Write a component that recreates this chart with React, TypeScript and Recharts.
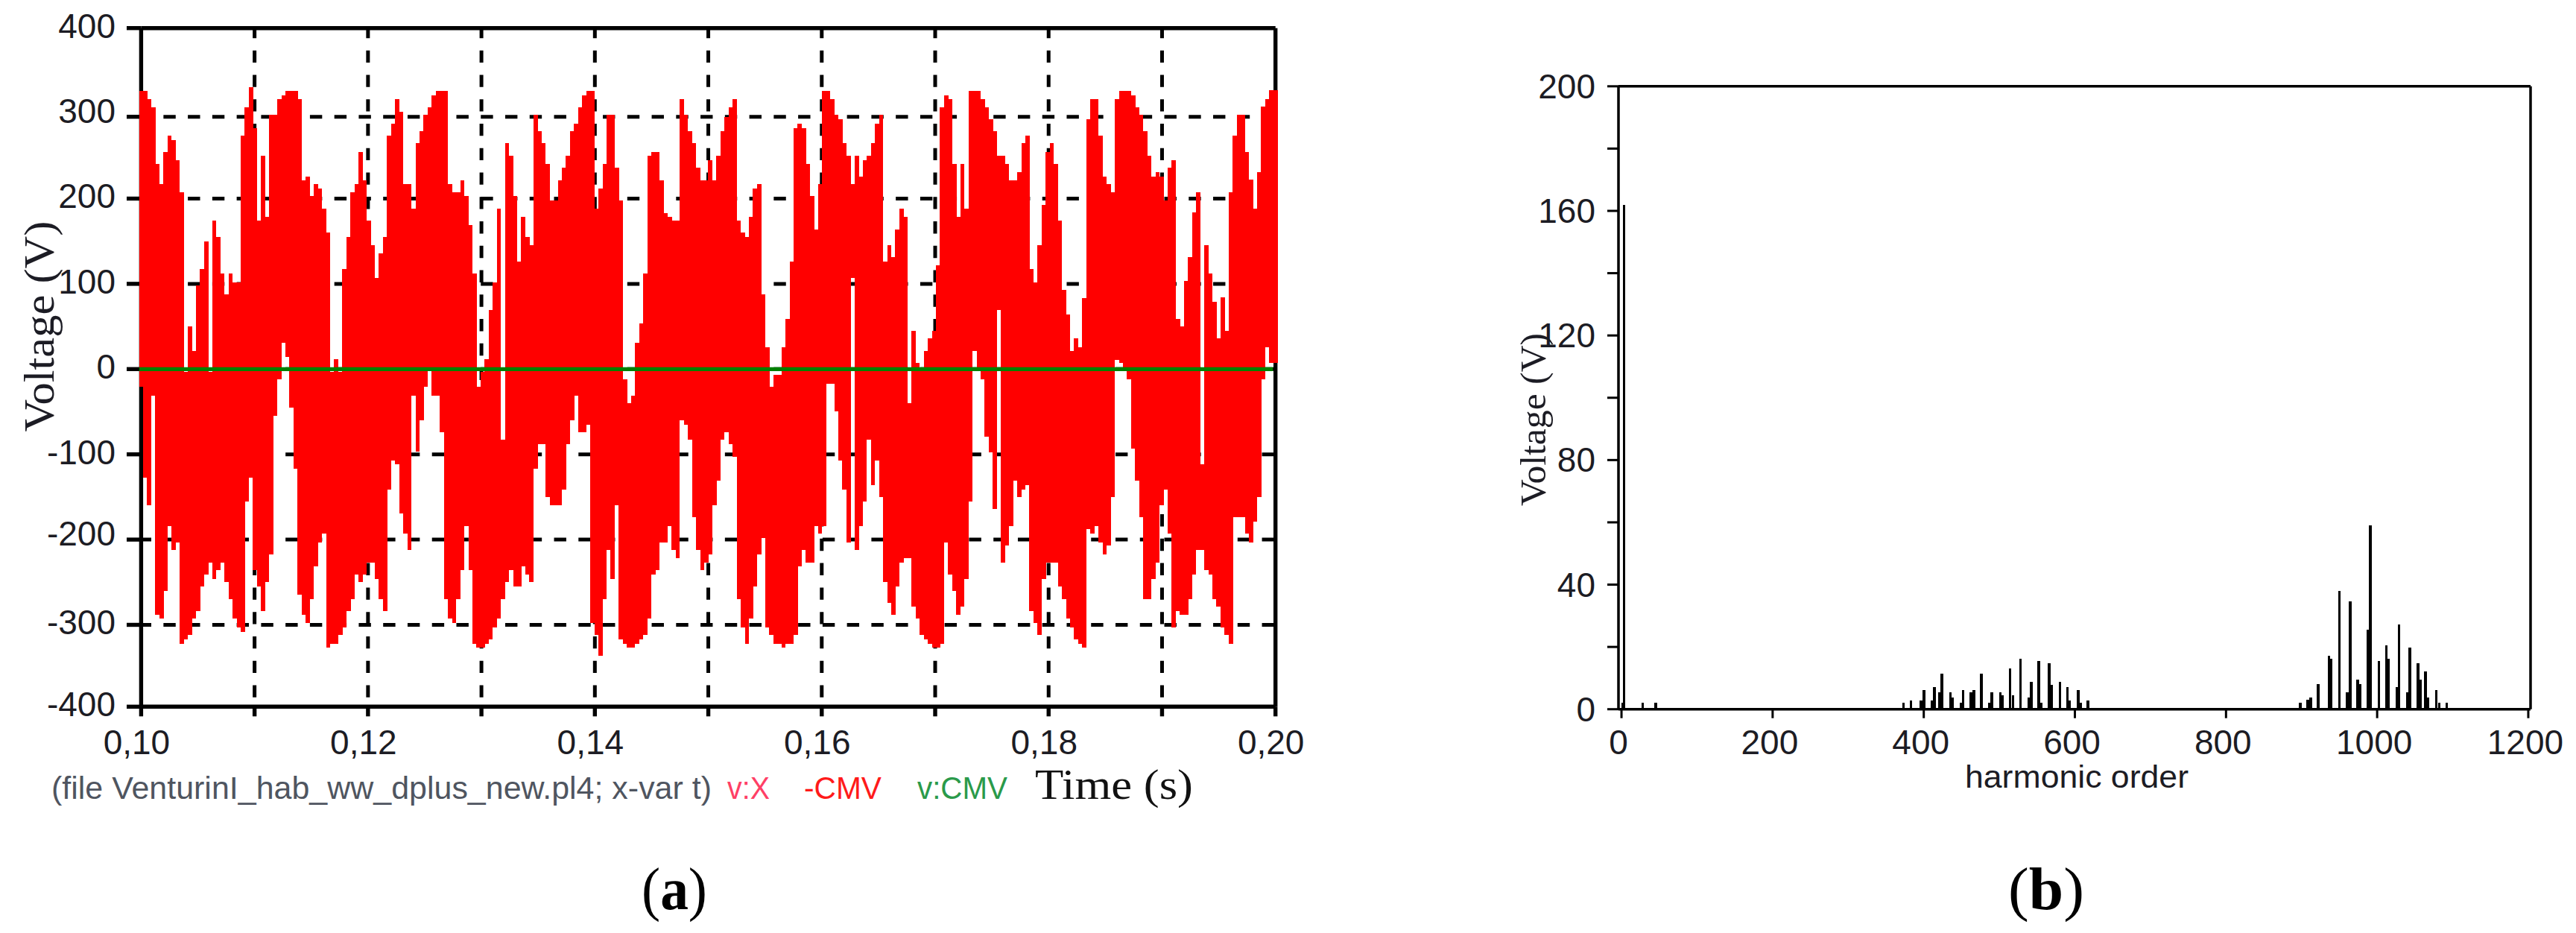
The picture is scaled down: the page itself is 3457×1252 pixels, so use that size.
import { Bar, BarChart, CartesianGrid, ComposedChart, Line, XAxis, YAxis } from 'recharts';

// (a) waveform, one column per raster pixel of the scope plot: top and bottom of the red band
const upper = [
  326, 326, 317, 307, 241, 217, 255, 274, 269, 245,
  207, -3, 50, 21, 98, 117, 150, -3, 174, 155,
  112, 88, 112, 102, 102, 274, 307, 331, 283, 174,
  250, 179, 298, 298, 317, 321, 326, 326, 326, 317,
  221, 226, 203, 217, 212, 188, 160, -3, 12, -3,
  117, 155, 207, 217, 255, 221, 174, 145, 107, 136,
  155, 274, 288, 317, 302, 217, 217, 188, 265, 279,
  298, 307, 321, 326, 326, 326, 217, 207, 207, 221,
  203, 169, 112, -21, -3, 12, 69, 102, 188, -83,
  265, 250, 203, 126, 179, 155, 145, 298, 279, 265,
  241, 198, 198, 221, 236, 250, 279, 288, 307, 321,
  326, 326, 188, 212, 241, 298, 298, 236, 198, -12,
  -40, -31, 31, 54, 112, 250, 255, 255, 221, 183,
  179, 174, 174, 317, 298, 279, 265, 236, 221, 221,
  245, 221, 250, 279, 296, 307, 317, 174, 160, 155,
  179, 212, 217, 88, 26, -21, -7, -7, 26, 59,
  126, 283, 288, 283, 241, 203, 164, 217, 326, 326,
  317, 298, 293, 265, 250, 217, 250, 226, 245, 250,
  265, 288, 298, 126, 145, 131, 164, 188, 179, -40,
  45, 7, 2, 21, 36, 45, 122, 307, 321, 317,
  241, 179, 241, 188, 326, 326, 326, 317, 307, 293,
  279, 250, 250, 241, 221, 221, 231, 265, 274, 117,
  102, 145, 193, 255, 265, 241, 174, 93, 64, 21,
  36, 26, 83, 293, 317, 317, 274, 226, 217, 207,
  317, 326, 326, 326, 321, 307, 298, 279, 250, 226,
  231, 226, 198, 236, 245, 59, 50, 103, 131, 184,
  207, -112, 145, 112, 79, 36, 84, 45, 207, 274,
  298, 298, 255, 222, 188, 231, 308, 317, 327, 327,
];
const lower = [
  -21, -127, -160, -31, -288, -293, -260, -184, -212, -203,
  -322, -317, -312, -293, -284, -255, -241, -227, -246, -236,
  -227, -250, -270, -293, -303, -308, -155, -127, -236, -255,
  -284, -250, -217, -55, -12, 31, 14, -45, -117, -265,
  -288, -298, -270, -231, -203, -193, -327, -322, -322, -312,
  -303, -284, -270, -241, -250, -241, -227, -227, -246, -270,
  -284, -141, -107, -112, -169, -193, -212, -31, -97, -60,
  -21, -1, -31, -31, -74, -270, -293, -298, -270, -236,
  -184, -236, -322, -327, -327, -322, -317, -303, -293, -270,
  -250, -236, -255, -255, -231, -241, -250, -117, -88, -88,
  -150, -160, -160, -160, -141, -88, -60, -31, -74, -74,
  -65, -298, -312, -336, -270, -212, -246, -160, -317, -322,
  -327, -327, -322, -317, -312, -293, -241, -236, -203, -203,
  -184, -212, -222, -60, -65, -83, -174, -212, -236, -227,
  -217, -160, -131, -83, -74, -88, -103, -270, -303, -322,
  -293, -255, -217, -198, -303, -312, -322, -322, -327, -322,
  -322, -312, -231, -212, -227, -227, -184, -193, -184, -17,
  -17, -50, -107, -141, -203, 107, -212, -184, -155, -83,
  -136, -107, -150, -250, -274, -288, -255, -227, -222, -222,
  -279, -293, -312, -317, -322, -327, -327, -322, -203, -241,
  -260, -288, -279, -246, -155, 21, -1, -12, -79, -98,
  -164, 69, -227, -207, -184, -131, -150, -141, -136, -284,
  -298, -312, -246, -227, -227, -227, -255, -270, -293, -303,
  -317, -322, -327, -188, -193, -184, -203, -217, -207, -150,
  11, 7, -2, -12, -93, -131, -174, -270, -270, -246,
  -227, -160, -141, -193, -303, -284, -288, -288, -270, -241,
  -212, -212, -236, -241, -270, -279, -303, -312, -322, -174,
  -174, -174, -193, -203, -179, -150, -12, 26, 7, 7,
];
const cmvTimes = [0.1, 0.1996];
const cmvValues = [0, 0];

const timeTicks = [0.1, 0.11, 0.12, 0.13, 0.14, 0.15, 0.16, 0.17, 0.18, 0.19, 0.2];
const timeGrid = [0.11, 0.12, 0.13, 0.14, 0.15, 0.16, 0.17, 0.18, 0.19];
// the picture is a low-res screenshot, so the 300 and -400 lines sit a little off the even spacing
const voltTicks = [400, 296, 200, 100, 0, -100, -200, -300, -396];
const voltGrid = [296, 200, 100, 0, -100, -200, -300];

// (b) spectrum
const harmonicOrders = [
  1, 3, 28, 45, 373, 383, 396, 400, 411, 414, 421, 424, 435, 438, 449, 452, 462, 466, 476, 487,
  490, 501, 504, 514, 518, 528, 539, 542, 552, 555, 566, 569, 580, 590, 593, 604, 607, 617,
  898, 908, 912, 922, 936, 939, 950, 960, 964, 974, 977, 988, 991, 1002, 1012, 1015, 1026, 1029,
  1040, 1043, 1054, 1057, 1064, 1067, 1078, 1082, 1092,
];
const harmonicVolts = [
  2, 162, 2, 2, 2, 2.9, 2.9, 6.2, 2.9, 7.1, 5.4, 11.3, 5.4, 3.8, 2, 6.2, 5.4, 6.2, 11.3, 2,
  5.4, 5.4, 4.5, 13, 4.5, 16.3, 3.8, 8.8, 15.5, 2, 14.7, 7.9, 8.8, 7.1, 2.9, 6.2, 2, 2.9,
  2, 3, 3.8, 8, 17.1, 16.3, 38, 5.4, 34.7, 9.6, 8, 25.5, 59, 15.5, 20.5, 16.3, 7.1, 27.2,
  5.4, 19.7, 14.7, 9.6, 12.1, 3.8, 6.2, 2, 2,
];
const orderTicks = [0, 200, 400, 600, 800, 1000, 1200];
const spectrumTicks = [0, 20, 40, 60, 80, 100, 120, 140, 160, 180, 200];

const columnStep = 0.1 / 279;
const waveform = upper.map((u, i) => ({ time: 0.1 + i * columnStep, band: [lower[i], u], top: u }));
const cmvLine = cmvTimes.map((t, i) => ({ time: t, cmv: cmvValues[i] }));
const spectrum = harmonicOrders.map((o, i) => ({ order: o, volts: harmonicVolts[i] }));

const SANS = '"Liberation Sans", Arial, sans-serif';
const SERIF = '"Liberation Serif", "Times New Roman", serif';
const INK = '#1c1c24';

const voltNudge: Record<number, number> = { 296: -5, '-200': -5 };

const VoltTick = ({ y, payload }: any) => (
  <text
    x={155}
    y={y + 16 - 3 + (voltNudge[payload.value] ?? 0)}
    textAnchor="end"
    fontFamily={SANS}
    fontSize={46}
    fill={INK}
  >
    {Math.round(payload.value / 100) * 100}
  </text>
);

const TimeTick = ({ x, payload }: any) => {
  const hundredths = Math.round(payload.value * 100);
  if (hundredths % 2 !== 0) return <g />;
  return (
    <text x={x - 6} y={1012} textAnchor="middle" fontFamily={SANS} fontSize={46} fill={INK}>
      {payload.value.toFixed(2).replace('.', ',')}
    </text>
  );
};

const SpectrumYTick = ({ y, payload }: any) =>
  payload.value % 40 !== 0 ? (
    <g />
  ) : (
    <text x={141} y={y + 16} textAnchor="end" fontFamily={SANS} fontSize={46} fill={INK}>
      {payload.value}
    </text>
  );

const SpectrumXTick = ({ x, payload }: any) => (
  <text x={x - 4} y={1012} textAnchor="middle" fontFamily={SANS} fontSize={46} fill={INK}>
    {payload.value}
  </text>
);

// recharts shrinks bars to the smallest gap on a number axis, so keep the centre and set the width here
const columnShape = (w: number) => ({ x, y, width, height, fill }: any) => (
  <rect
    x={x + width / 2 - w / 2}
    y={Math.min(y, y + height)}
    width={w}
    height={Math.abs(height)}
    fill={fill}
    shapeRendering="crispEdges"
  />
);
const RedColumn = columnShape(5.7);
const Stem = columnShape(3.5);

// the top and right axes take 1px each, which the margins give back
const leftMargin = { top: 36.7, right: 87.3, bottom: 31.7, left: 0 };
const black = { stroke: '#000', strokeWidth: 5.4 };
const thin = { stroke: '#000', strokeWidth: 3.5 };

const Labels = () => (
  <svg width={3457} height={1252} style={{ position: 'absolute', left: 0, top: 0 }}>
    <text x={72} y={438} transform="rotate(-90 72 438)" textAnchor="middle" textLength={283} lengthAdjust="spacingAndGlyphs" fontFamily={SERIF} fontSize={58} fill={INK}>
      Voltage (V)
    </text>
    <text x={69} y={1072} textLength={886} lengthAdjust="spacingAndGlyphs" fontFamily={SANS} fontSize={42} fill="#4f5560">
      (file VenturinI_hab_ww_dplus_new.pl4; x-var t)
    </text>
    <text x={976} y={1072} textLength={57} lengthAdjust="spacingAndGlyphs" fontFamily={SANS} fontSize={42} fill="#ff3f66">
      v:X
    </text>
    <text x={1079} y={1072} textLength={104} lengthAdjust="spacingAndGlyphs" fontFamily={SANS} fontSize={42} fill="#ff1a1a">
      -CMV
    </text>
    <text x={1231} y={1072} textLength={121} lengthAdjust="spacingAndGlyphs" fontFamily={SANS} fontSize={42} fill="#2a9a4a">
      v:CMV
    </text>
    <text x={1389} y={1072} textLength={212} lengthAdjust="spacingAndGlyphs" fontFamily={SERIF} fontSize={58} fill="#111">
      Time (s)
    </text>
    <text x={861} y={1220} textLength={88} lengthAdjust="spacingAndGlyphs" fontFamily={SERIF} fontSize={80} fill="#000">
      (<tspan fontWeight="bold">a</tspan>)
    </text>

    <text x={2074} y={563} transform="rotate(-90 2074 563)" textAnchor="middle" textLength={232} lengthAdjust="spacingAndGlyphs" fontFamily={SERIF} fontSize={48} fill={INK}>
      Voltage (V)
    </text>
    <text x={2787} y={1057} textAnchor="middle" textLength={300} lengthAdjust="spacingAndGlyphs" fontFamily={SANS} fontSize={43} fill={INK}>
      harmonic order
    </text>
    <text x={2695} y={1220} textLength={102} lengthAdjust="spacingAndGlyphs" fontFamily={SERIF} fontSize={80} fill="#000">
      (<tspan fontWeight="bold">b</tspan>)
    </text>
  </svg>
);

export default function App() {
  return (
    <div style={{ position: 'absolute', left: 0, top: 0, width: 3457, height: 1252, background: '#fff', overflow: 'hidden' }}>
      {/* frame and dashed grid sit in their own chart so that the red band covers them */}
      <div style={{ position: 'absolute', left: 0, top: 0 }}>
        <ComposedChart width={1800} height={1040} data={waveform} margin={leftMargin}>
          <CartesianGrid
            stroke="#000"
            strokeWidth={5}
            strokeDasharray="16.4 16.36"
            strokeDashoffset={2.8}
            horizontalValues={voltGrid}
            verticalValues={timeGrid}
          />
          <XAxis
            dataKey="time"
            type="number"
            domain={[0.1, 0.2]}
            ticks={timeTicks}
            interval={0}
            height={60}
            tickSize={13}
            axisLine={black}
            tickLine={black}
            tick={<TimeTick />}
          />
          <XAxis xAxisId="top" dataKey="time" orientation="top" type="number" domain={[0.1, 0.2]} height={1} tick={false} tickLine={false} axisLine={black} />
          <YAxis
            type="number"
            domain={[-396, 400]}
            ticks={voltTicks}
            interval={0}
            width={189.4}
            tickSize={19.4}
            axisLine={black}
            tickLine={black}
            tick={<VoltTick />}
          />
          <YAxis yAxisId="right" orientation="right" type="number" domain={[-396, 400]} width={1} tick={false} tickLine={false} axisLine={black} />
          {/* invisible, only here so that both axis pairs have something bound to them */}
          <Line dataKey="top" stroke="none" dot={false} legendType="none" isAnimationActive={false} />
          <Line dataKey="top" xAxisId="top" yAxisId="right" stroke="none" dot={false} legendType="none" isAnimationActive={false} />
        </ComposedChart>
      </div>

      <div style={{ position: 'absolute', left: 0, top: 0 }}>
        <ComposedChart
          width={1800}
          height={1040}
          data={waveform}
          margin={{ top: 37.7, right: 88.3, bottom: 91.7, left: 189.4 }}
        >
          <XAxis dataKey="time" type="number" domain={[0.1, 0.2]} hide />
          <YAxis type="number" domain={[-396, 400]} hide />
          <Bar dataKey="band" fill="#ff0000" shape={RedColumn} isAnimationActive={false} />
          <Line
            data={cmvLine}
            dataKey="cmv"
            stroke="#008000"
            strokeWidth={5.3}
            strokeLinecap="square"
            dot={false}
            isAnimationActive={false}
          />
        </ComposedChart>
      </div>

      <div style={{ position: 'absolute', left: 2000, top: 0 }}>
        <BarChart
          width={1457}
          height={1100}
          data={spectrum}
          margin={{ top: 114.8, right: 60, bottom: 88.3, left: 0 }}
        >
          <XAxis
            dataKey="order"
            type="number"
            domain={[-4, 1203]}
            ticks={orderTicks}
            interval={0}
            height={60}
            tickSize={12}
            axisLine={thin}
            tickLine={{ stroke: '#000', strokeWidth: 3 }}
            tick={<SpectrumXTick />}
          />
          <XAxis xAxisId="top" dataKey="order" orientation="top" type="number" domain={[-4, 1203]} height={1} tick={false} tickLine={false} axisLine={thin} />
          <YAxis
            type="number"
            domain={[0, 200]}
            ticks={spectrumTicks}
            interval={0}
            width={172}
            tickSize={15}
            axisLine={thin}
            tickLine={{ stroke: '#000', strokeWidth: 3 }}
            tick={<SpectrumYTick />}
          />
          <YAxis yAxisId="right" orientation="right" type="number" domain={[0, 200]} width={1} tick={false} tickLine={false} axisLine={thin} />
          <Bar dataKey="volts" fill="#000" shape={Stem} isAnimationActive={false} />
          <Bar dataKey="volts" xAxisId="top" yAxisId="right" fill="none" shape={Stem} isAnimationActive={false} />
        </BarChart>
      </div>

      <Labels />
    </div>
  );
}
